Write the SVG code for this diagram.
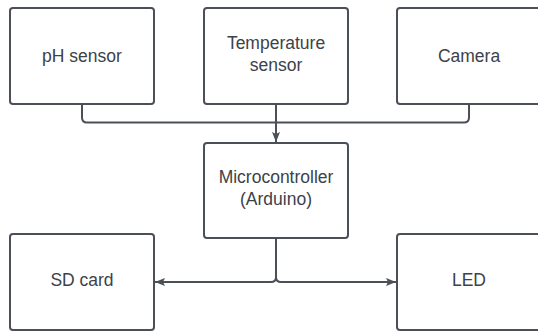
<svg xmlns="http://www.w3.org/2000/svg" width="538" height="333" viewBox="0 0 538 333">
<style>
.box{fill:#ffffff;stroke:#4b5058;stroke-width:2}
.lbl{font-family:"Liberation Sans",Arial,sans-serif;font-size:17.5px;fill:#3c424a;text-anchor:middle}
.con{fill:none;stroke:#4b5058;stroke-width:2}
</style>
<defs>
<marker id="arr" viewBox="0 0 10 10" refX="10" refY="5" markerWidth="10" markerHeight="10" markerUnits="userSpaceOnUse" orient="auto">
<path d="M0,1 L10,5 L0,9 L2,5 Z" fill="#4b5058"/>
</marker>
</defs>
<rect width="538" height="333" fill="#ffffff"/>
<g id="connectors">
<path class="con" d="M82,104 V117.5 Q82,122.5 87,122.5 H276"/>
<path class="con" d="M469,104 V117.5 Q469,122.5 464,122.5 H276"/>
<path class="con" d="M276,104 V142" marker-end="url(#arr)"/>
<path class="con" d="M276,238 V277 Q276,282 271,282 H155" marker-end="url(#arr)"/>
<path class="con" d="M276,238 V277 Q276,282 281,282 H396" marker-end="url(#arr)"/>
</g>
<g id="ph">
<rect class="box" x="10" y="8" width="144" height="96" rx="3"/>
<text class="lbl" x="82" y="62">pH sensor</text>
</g>
<g id="temperature">
<rect class="box" x="204" y="8" width="144" height="96" rx="3"/>
<text class="lbl" x="276" y="49">Temperature</text>
<text class="lbl" x="276" y="71">sensor</text>
</g>
<g id="camera">
<rect class="box" x="397" y="8" width="144" height="96" rx="3"/>
<text class="lbl" x="469" y="62">Camera</text>
</g>
<g id="microcontroller">
<rect class="box" x="204" y="143" width="144" height="95" rx="3"/>
<text class="lbl" x="276" y="183">Microcontroller</text>
<text class="lbl" x="276" y="205">(Arduino)</text>
</g>
<g id="sdcard">
<rect class="box" x="10" y="234" width="144" height="96" rx="3"/>
<text class="lbl" x="82" y="286">SD card</text>
</g>
<g id="led">
<rect class="box" x="397" y="234" width="144" height="96" rx="3"/>
<text class="lbl" x="469" y="286">LED</text>
</g>
</svg>
